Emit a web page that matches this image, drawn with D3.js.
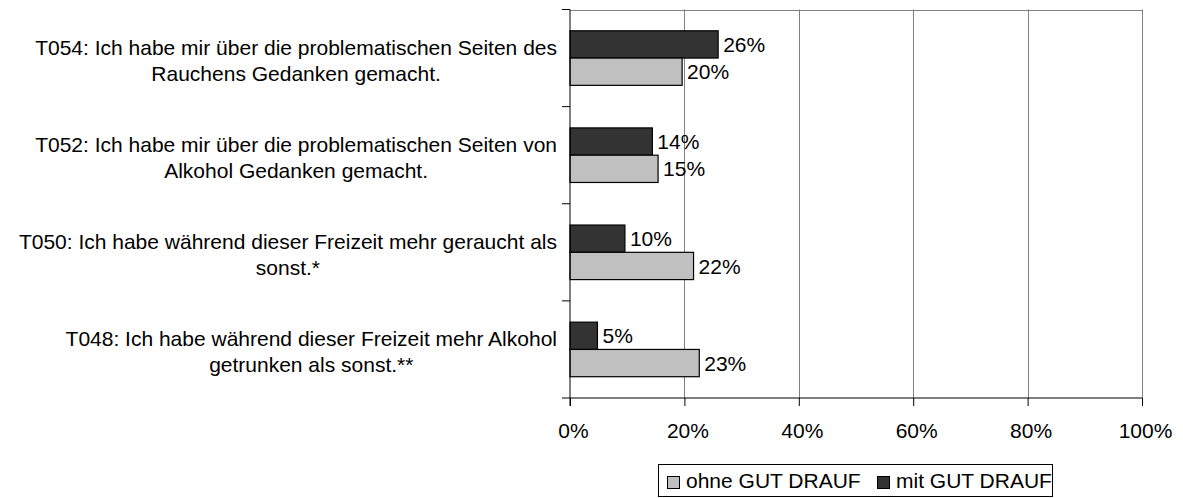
<!DOCTYPE html>
<html>
<head>
<meta charset="utf-8">
<script src="https://cdn.jsdelivr.net/npm/d3@7"></script>
<style>
  body { margin: 0; background: #fff; }
  text { font-family: "Liberation Sans", Arial, sans-serif; font-size: 21px; fill: #000; }
</style>
</head>
<body>
<div id="chart"></div>
<script>
// categories, top to bottom (line breaks as in the original)
var categories = ["T054", "T052", "T050", "T048"];
var categoryLines = [
    ["T054: Ich habe mir über die problematischen Seiten des", "Rauchens Gedanken gemacht."],
    ["T052: Ich habe mir über die problematischen Seiten von", "Alkohol Gedanken gemacht."],
    ["T050: Ich habe während dieser Freizeit mehr geraucht als", "sonst.*"],
    ["T048: Ich habe während dieser Freizeit mehr Alkohol", "getrunken als sonst.**"]
];
var seriesNames = ["mit GUT DRAUF", "ohne GUT DRAUF"];
var mitValues = [25.9, 14.4, 9.6, 4.8];
var ohneValues = [19.6, 15.4, 21.6, 22.6];
var xTicks = [0, 20, 40, 60, 80, 100];
var seriesColors = ["#333333", "#c0c0c0"];

var width = 1183, height = 498;
var plotLeft = 570, plotRight = 1142, plotTop = 9.5, plotBottom = 398;

var svg = d3.select("#chart").append("svg")
    .attr("width", width)
    .attr("height", height);

var x = d3.scaleLinear().domain([0, 100]).range([plotLeft, plotRight]);
var y0 = d3.scaleBand().domain(categories).range([plotTop, plotBottom]);
var y1 = d3.scaleBand().domain(seriesNames).range([0, y0.bandwidth()]).paddingOuter(0.78);

// gridlines
svg.append("g").selectAll("line").data(xTicks.slice(1))
    .enter().append("line")
    .attr("x1", function (d) { return Math.round(x(d)) + 0.5; })
    .attr("x2", function (d) { return Math.round(x(d)) + 0.5; })
    .attr("y1", plotTop).attr("y2", plotBottom)
    .style("stroke", "#808080");
// top border
svg.append("line")
    .attr("x1", plotLeft).attr("x2", Math.round(plotRight) + 0.5)
    .attr("y1", Math.round(plotTop) + 0.5).attr("y2", Math.round(plotTop) + 0.5)
    .style("stroke", "#808080");

var rows = categories.map(function (c, i) {
    return {cat: c, values: [
        {name: seriesNames[0], value: mitValues[i]},
        {name: seriesNames[1], value: ohneValues[i]}
    ]};
});

var groups = svg.append("g").selectAll("g").data(rows)
    .enter().append("g")
    .attr("transform", function (d) { return "translate(0," + y0(d.cat) + ")"; });

groups.selectAll("rect").data(function (d) { return d.values; })
    .enter().append("rect")
    .attr("x", x(0))
    .attr("y", function (d) { return y1(d.name); })
    .attr("width", function (d) { return x(d.value) - x(0); })
    .attr("height", y1.bandwidth())
    .attr("fill", function (d, i) { return seriesColors[i]; })
    .style("stroke", "#000")
    .style("stroke-width", 1.2);

groups.selectAll("text.val").data(function (d) { return d.values; })
    .enter().append("text")
    .attr("class", "val")
    .attr("x", function (d) { return x(d.value) + 5; })
    .attr("y", function (d) { return y1(d.name) + y1.bandwidth() / 2; })
    .attr("dy", "0.36em")
    .text(function (d) { return Math.round(d.value) + "%"; });

// axes
var xAxis = svg.append("g")
    .attr("transform", "translate(0," + plotBottom + ")")
    .call(d3.axisBottom(x).tickValues(xTicks).tickSize(8).tickPadding(17)
        .tickFormat(function (d) { return d + "%"; }));
xAxis.select(".domain").remove();
xAxis.selectAll("line").style("stroke", "#000");
xAxis.selectAll("text").style("font-size", "21px").style("font-family", null).attr("dx", 3);
svg.append("line")
    .attr("x1", plotLeft).attr("x2", plotRight)
    .attr("y1", plotBottom).attr("y2", plotBottom)
    .style("stroke", "#000");

svg.append("line")
    .attr("x1", plotLeft).attr("x2", plotLeft)
    .attr("y1", plotTop).attr("y2", plotBottom + 8)
    .style("stroke", "#000");
svg.append("g").selectAll("line")
    .data(categories.map(function (c) { return y0(c); }).concat([plotBottom]))
    .enter().append("line")
    .attr("x1", plotLeft - 8).attr("x2", plotLeft)
    .attr("y1", function (d) { return d; }).attr("y2", function (d) { return d; })
    .style("stroke", "#000");

// category labels, lines centred inside a block right-aligned to the axis
var labelRight = 557;
categories.forEach(function (c, i) {
    var lines = categoryLines[i];
    var cy = y0(c) + y0.bandwidth() / 2 + 2;
    var g = svg.append("g");
    var texts = g.selectAll("text").data(lines).enter().append("text")
        .attr("text-anchor", "middle")
        .attr("y", function (d, j) { return cy + (j - (lines.length - 1) / 2) * 26; })
        .attr("dy", "0.36em")
        .text(function (d) { return d; });
    var maxW = d3.max(texts.nodes(), function (n) { return n.getComputedTextLength(); });
    texts.attr("x", labelRight - maxW / 2);
});

// legend
var legend = svg.append("g");
legend.append("rect")
    .attr("x", 658.5).attr("y", 464.5)
    .attr("width", 394).attr("height", 32)
    .attr("fill", "#fff")
    .style("stroke", "#000");
var legendItems = [
    {name: seriesNames[1], color: seriesColors[1], x: 667},
    {name: seriesNames[0], color: seriesColors[0], x: 877}
];
legendItems.forEach(function (d) {
    legend.append("rect")
        .attr("x", d.x + 0.5).attr("y", 476.5)
        .attr("width", 12).attr("height", 12)
        .attr("fill", d.color)
        .style("stroke", "#000");
    legend.append("text")
        .attr("x", d.x + 19).attr("y", 488)
        .text(d.name);
});
</script>
</body>
</html>
